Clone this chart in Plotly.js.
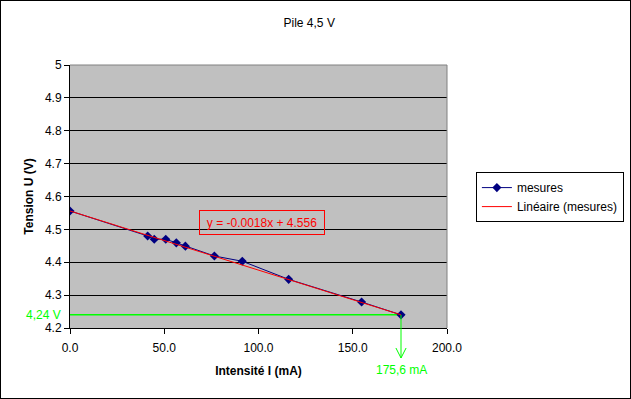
<!DOCTYPE html>
<html>
<head>
<meta charset="utf-8">
<script src="https://cdn.plot.ly/plotly-3.0.1.min.js"></script>
<style>
  html, body { margin: 0; padding: 0; background: #fff; }
  #frame { width: 631px; height: 399px; box-sizing: border-box; border: 1px solid #000; }
  #chart { width: 629px; height: 397px; }
</style>
</head>
<body>
<div id="frame"><div id="chart"></div></div>
<script>
// Measured data (intensity in mA, voltage in V)
const intensite = [0, 41.2, 44.7, 50.8, 56.4, 61.2, 76.6, 91.4, 116.0, 154.7, 175.6];
const tension   = [4.556, 4.480, 4.470, 4.470, 4.459, 4.449, 4.419, 4.403, 4.348, 4.279, 4.240];
// Linear trend line endpoints
const trendX = [0, 175.6];
const trendY = [4.556, 4.240];
// Highlighted point
const markX = [0, 175.6];
const markY = [4.24, 4.24];
const yTicks = [4.2, 4.3, 4.4, 4.5, 4.6, 4.7, 4.8, 4.9, 5];
const yTickText = ['4.2', '4.3', '4.4', '4.5', '4.6', '4.7', '4.8', '4.9', '5'];
const xTicks = [0, 50, 100, 150, 200];
const xTickText = ['0.0', '50.0', '100.0', '150.0', '200.0'];
const equation = 'y = -0.0018x + 4.556';

const FONT = 'Arial, "Liberation Sans", sans-serif';
const GREEN = '#00FF00';
const arrowX = markX[1];
const tipY = -0.114, headY = -0.076;

const traces = [
  {
    x: markX, y: markY, mode: 'lines', showlegend: false,
    line: { color: GREEN, width: 1.5 }, hoverinfo: 'skip'
  },
  {
    x: intensite, y: tension, name: 'mesures', mode: 'lines+markers',
    line: { color: '#000080', width: 1 },
    marker: { symbol: 'diamond', size: 7, color: '#000080' }
  },
  {
    x: trendX, y: trendY, name: 'Linéaire (mesures)', mode: 'lines',
    line: { color: '#FF0000', width: 1 }
  }
];

const layout = {
  width: 629, height: 397,
  margin: { l: 69, r: 183, t: 64, b: 70, pad: 0 },
  paper_bgcolor: '#FFFFFF',
  plot_bgcolor: '#C0C0C0',
  font: { family: FONT, size: 12, color: '#000' },
  title: { text: 'Pile 4,5 V', x: 0.49, xref: 'container', y: 0.945, yref: 'container',
           xanchor: 'center', yanchor: 'middle', font: { family: FONT, size: 12, color: '#000' } },
  xaxis: {
    range: [0, 200], tickvals: xTicks, ticktext: xTickText,
    ticks: 'outside', ticklen: 5, tickcolor: '#000', tickwidth: 1,
    ticklabelstandoff: 4,
    showline: true, linecolor: '#000', linewidth: 1,
    showgrid: false, zeroline: false, automargin: false,
    tickfont: { family: FONT, size: 12, color: '#000' },
    title: { text: '<b>Intensité I (mA)</b>', standoff: 12, font: { family: FONT, size: 12, color: '#000' } }
  },
  yaxis: {
    range: [4.2, 5], tickvals: yTicks, ticktext: yTickText,
    ticks: 'outside', ticklen: 5, tickcolor: '#000', tickwidth: 1,
    showline: true, linecolor: '#000', linewidth: 1,
    showgrid: true, gridcolor: '#000', gridwidth: 1, zeroline: false, automargin: false,
    tickfont: { family: FONT, size: 12, color: '#000' },
    title: { text: '<b>Tension U (V)</b>', standoff: 8, font: { family: FONT, size: 12, color: '#000' } }
  },
  legend: {
    xref: 'container', yref: 'container',
    x: 0.755, y: 0.569, xanchor: 'left', yanchor: 'top',
    bgcolor: '#FFFFFF', bordercolor: '#000', borderwidth: 1,
    font: { family: FONT, size: 12, color: '#000' },
    itemwidth: 30, tracegroupgap: 0
  },
  shapes: [
    // plot area grey border (top & right)
    { type: 'line', xref: 'paper', yref: 'paper', x0: 0, x1: 1, y0: 1, y1: 1, line: { color: '#808080', width: 1 } },
    { type: 'line', xref: 'paper', yref: 'paper', x0: 1, x1: 1, y0: 0, y1: 1, line: { color: '#808080', width: 1 } },
    // vertical green arrow
    { type: 'line', xref: 'x', yref: 'paper', x0: arrowX, x1: arrowX, y0: (markY[1] - 4.2) / 0.8, y1: tipY, line: { color: GREEN, width: 1 } },
    { type: 'line', xref: 'x', yref: 'paper', x0: arrowX - 2.7, x1: arrowX, y0: headY, y1: tipY, line: { color: GREEN, width: 1 } },
    { type: 'line', xref: 'x', yref: 'paper', x0: arrowX + 2.7, x1: arrowX, y0: headY, y1: tipY, line: { color: GREEN, width: 1 } }
  ],
  annotations: [
    { text: equation, xref: 'x', yref: 'y', x: 102.1, y: 4.521, showarrow: false,
      font: { family: FONT, size: 12, color: '#FF0000' },
      bordercolor: '#FF0000', borderwidth: 1, borderpad: 2, width: 120, height: 19 },
    { text: '4,24 V', xref: 'paper', yref: 'y', x: 0, y: markY[1], xanchor: 'right', yanchor: 'middle',
      xshift: -7, showarrow: false, font: { family: FONT, size: 12, color: GREEN } },
    { text: '175,6 mA', xref: 'x', yref: 'paper', x: arrowX, y: -0.16, xanchor: 'center', yanchor: 'middle',
      showarrow: false, font: { family: FONT, size: 12, color: GREEN } }
  ]
};

Plotly.newPlot('chart', traces, layout, { staticPlot: true, displayModeBar: false });
</script>
</body>
</html>
